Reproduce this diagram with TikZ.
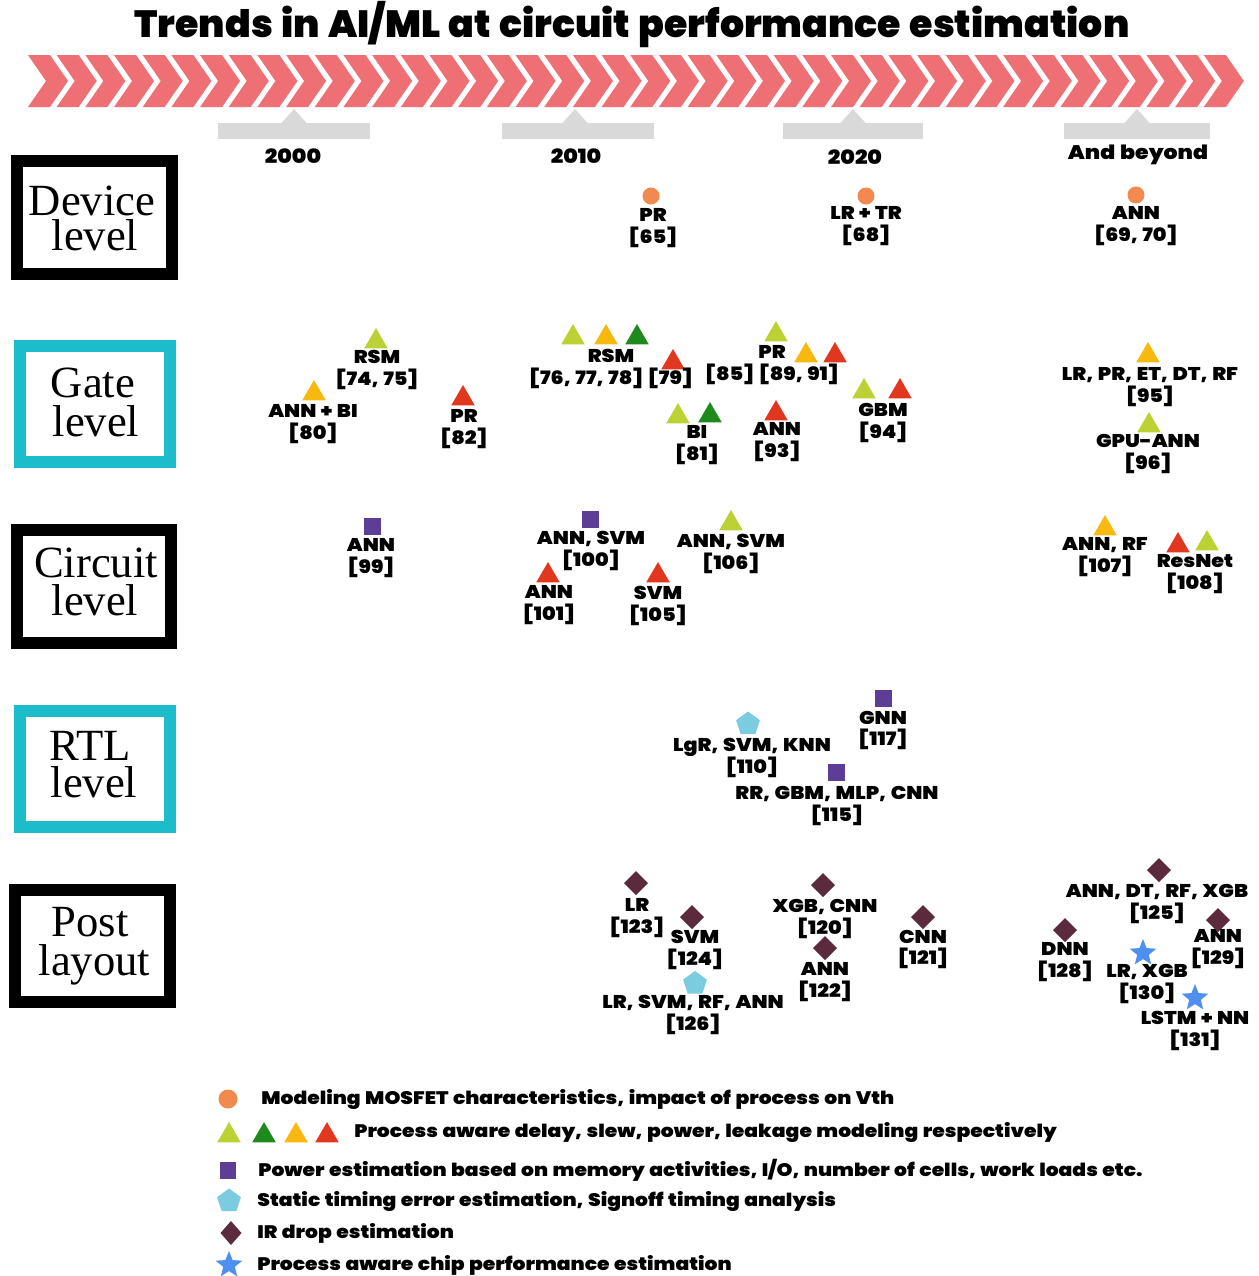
\documentclass[tikz,border=0pt]{standalone}
\usepackage{graphicx}
\usepackage{fontspec}
\setmainfont{Poppins}
\newfontfamily\heavyfont{Poppins Black}[FakeStretch=1.12, WordSpace=1.8]
\newfontfamily\legendfont{Poppins Black}[FakeStretch=1.12, WordSpace=1.3]
\newfontfamily\titlefont{Poppins Black}[WordSpace=1.3]
\newfontfamily\seriffont{Liberation Serif}
\usetikzlibrary{shapes.geometric}

\definecolor{cChev}{HTML}{EE7074}
\definecolor{cGray}{HTML}{D9D9D9}
\definecolor{cCyan}{HTML}{1CBCCB}
\definecolor{cOrange}{HTML}{F28A4F}
\definecolor{cLime}{HTML}{BCD234}
\definecolor{cGreen}{HTML}{1E8A1E}
\definecolor{cAmber}{HTML}{F7B90F}
\definecolor{cRed}{HTML}{E2371F}
\definecolor{cPurple}{HTML}{5C3E96}
\definecolor{cSky}{HTML}{7BCCE0}
\definecolor{cMaroon}{HTML}{5B2A3D}
\definecolor{cStar}{HTML}{4E8FEF}

\newcommand\labfont{\heavyfont\fontsize{10.5}{12.5}\selectfont}
\newcommand\yrfont{\heavyfont\fontsize{11.2}{13}\selectfont}
\newcommand\legfont{\legendfont\fontsize{10.3}{12.5}\selectfont}
\newcommand\lvlfont{\seriffont\fontsize{25.4}{21.5}\selectfont}

\tikzset{
  mk/.style={inner sep=0pt, outer sep=0pt, draw=none},
  dot/.style={mk, circle, fill=cOrange, minimum size=0.34cm},
  tri/.style={mk, regular polygon, regular polygon sides=3, minimum size=0.54cm, fill=#1},
  sq/.style={mk, rectangle, fill=cPurple, minimum size=0.34cm},
  penta/.style={mk, regular polygon, regular polygon sides=5, minimum size=0.5cm, fill=cSky},
  dia/.style={mk, diamond, fill=cMaroon, minimum size=0.48cm},
  starm/.style={mk, star, star points=5, star point ratio=2.3, minimum size=0.56cm, fill=cStar},
  lab/.style={align=center, inner sep=0pt, font=\labfont},
  frame/.style={draw=#1, line width=0.24cm, inner sep=0pt},
  lvltxt/.style={anchor=base, inner sep=0pt, font=\lvlfont},
  yr/.style={inner sep=0pt, font=\yrfont},
  legtxt/.style={anchor=west, inner sep=0pt, font=\legfont},
}

\begin{document}
\begin{tikzpicture}[x=0.02cm, y=-0.02cm]
\useasboundingbox (0,0) rectangle (1259,1276);
\fill[white] (0,0) rectangle (1259,1276);

% title
\node[inner sep=0pt] (title) at (632,25)
  {\resizebox{19.9cm}{!}{\titlefont Trends in AI/ML at circuit performance estimation}};

% chevron band
\foreach \i in {0,...,41}
  \fill[cChev] ({28+\i*28.68},55) -- ++(22,0) -- ++(18,26) -- ++(-18,26)
               -- ++(-22,0) -- ++(18,-26) -- cycle;

% timeline tabs
\foreach \cx/\xa/\xb in {294/218/370, 575/502/654, 853/783/923, 1137/1064/1210}{
  \fill[cGray] (\xa,123) rectangle (\xb,139);
  \fill[cGray] (\cx-13,123.5) -- (\cx,109) -- (\cx+13,123.5) -- cycle;
}
\node[yr] (y2000) at (293,156) {2000};
\node[yr] (y2010) at (576,156) {2010};
\node[yr] (y2020) at (855,157) {2020};
\node[yr] (ybeyond) at (1138,155) {And beyond};

% level boxes
\node[frame=black, minimum width=3.1cm, minimum height=2.26cm] (device) at (94.5,217.5) {};
\node[lvltxt] (deviceA) at (92,215) {Device};
\node[lvltxt] (deviceB) at (95,250) {level};

\node[frame=cCyan, minimum width=3.0cm, minimum height=2.32cm] (gate) at (95,404) {};
\node[lvltxt] (gateA) at (93,397) {Gate};
\node[lvltxt] (gateB) at (96,436) {level};

\node[frame=black, minimum width=3.08cm, minimum height=2.26cm] (circuit) at (94,586.5) {};
\node[lvltxt] (circuitA) at (96,577) {Circuit};
\node[lvltxt] (circuitB) at (95,615) {level};

\node[frame=cCyan, minimum width=3.0cm, minimum height=2.32cm] (rtl) at (95,769) {};
\node[lvltxt] (rtlA) at (90,760) {RTL};
\node[lvltxt] (rtlB) at (94,797) {level};

\node[frame=black, minimum width=3.1cm, minimum height=2.24cm] (post) at (92.5,946) {};
\node[lvltxt] (postA) at (90,936) {Post};
\node[lvltxt] (postB) at (94.5,975) {layout};

% device level
\node[dot] (dv1m) at (651,196) {};
\node[lab] (dv1) at (653,228) {PR\\{[65]}};
\node[dot] (dv2m) at (866,196) {};
\node[lab] (dv2) at (866,226) {LR + TR\\{[68]}};
\node[dot] (dv3m) at (1136,195) {};
\node[lab] (dv3) at (1136,226) {ANN\\{[69, 70]}};

% gate level
\node[tri=cLime] (g1a) at (376,341.5) {};
\node[lab] (g1) at (377,370) {RSM\\{[74, 75]}};
\node[tri=cAmber] (g2a) at (314,393.5) {};
\node[lab] (g2) at (313,424.5) {ANN + BI\\{[80]}};
\node[tri=cRed] (g3a) at (463,398.5) {};
\node[lab] (g3) at (464,429.5) {PR\\{[82]}};
\node[tri=cLime] (g4a) at (573,337.5) {};
\node[tri=cAmber] (g4b) at (606,337.5) {};
\node[tri=cGreen] (g4c) at (637,337.5) {};
\node[tri=cRed] (g4d) at (673,362.5) {};
\node[lab] (g4) at (611,368.5) {RSM\\{[76, 77, 78] [79]}};
\node[tri=cLime] (g5a) at (776,334.5) {};
\node[tri=cAmber] (g5b) at (806,355.5) {};
\node[tri=cRed] (g5c) at (835,355.5) {};
\node[lab] (g5) at (772,365) {PR\\{[85] [89, 91]}};
\node[tri=cLime] (g6a) at (678,416.5) {};
\node[tri=cGreen] (g6b) at (710,415.5) {};
\node[lab] (g6) at (697,445) {BI\\{[81]}};
\node[tri=cRed] (g7a) at (776,413.5) {};
\node[lab] (g7) at (777,442) {ANN\\{[93]}};
\node[tri=cLime] (g8a) at (864,391.5) {};
\node[tri=cRed] (g8b) at (900,391.5) {};
\node[lab] (g8) at (883,423) {GBM\\{[94]}};
\node[tri=cAmber] (g9a) at (1148,355.5) {};
\node[lab] (g9) at (1150,387.5) {LR, PR, ET, DT, RF\\{[95]}};
\node[tri=cLime] (g10a) at (1149,425.5) {};
\node[lab] (g10) at (1148,454) {GPU-ANN\\{[96]}};

% circuit level
\node[sq] (c1a) at (372,526) {};
\node[lab] (c1) at (371,558.5) {ANN\\{[99]}};
\node[sq] (c2a) at (590,519) {};
\node[lab] (c2) at (591,551) {ANN, SVM\\{[100]}};
\node[tri=cRed] (c3a) at (548,575.5) {};
\node[lab] (c3) at (549,605.5) {ANN\\{[101]}};
\node[tri=cRed] (c4a) at (658,575.5) {};
\node[lab] (c4) at (658,605.5) {SVM\\{[105]}};
\node[tri=cLime] (c5a) at (731,523.5) {};
\node[lab] (c5) at (731,553.5) {ANN, SVM\\{[106]}};
\node[tri=cAmber] (c6a) at (1105,528.5) {};
\node[lab] (c6) at (1105,557.5) {ANN, RF\\{[107]}};
\node[tri=cRed] (c7a) at (1178,545.5) {};
\node[tri=cLime] (c7b) at (1207,543.5) {};
\node[lab] (c7) at (1195,574) {ResNet\\{[108]}};

% RTL level
\node[penta] (r1a) at (748,724) {};
\node[lab] (r1) at (752,757.5) {LgR, SVM, KNN\\{[110]}};
\node[sq] (r2a) at (883,698) {};
\node[lab] (r2) at (883,730.5) {GNN\\{[117]}};
\node[sq] (r3a) at (836,772) {};
\node[lab] (r3) at (837,806) {RR, GBM, MLP, CNN\\{[115]}};

% post layout
\node[dia] (p1a) at (636,883) {};
\node[lab] (p1) at (637,918.5) {LR\\{[123]}};
\node[dia] (p2a) at (692,917) {};
\node[lab] (p2) at (695,949.5) {SVM\\{[124]}};
\node[penta] (p3a) at (695,983.5) {};
\node[lab] (p3) at (693,1015) {LR, SVM, RF, ANN\\{[126]}};
\node[dia] (p4a) at (823,885) {};
\node[lab] (p4) at (825,919) {XGB, CNN\\{[120]}};
\node[dia] (p5a) at (825,948) {};
\node[lab] (p5) at (825,982) {ANN\\{[122]}};
\node[dia] (p6a) at (923,917) {};
\node[lab] (p6) at (923,949.5) {CNN\\{[121]}};
\node[dia] (p7a) at (1159,870) {};
\node[lab] (p7) at (1157,904) {ANN, DT, RF, XGB\\{[125]}};
\node[dia] (p8a) at (1065,930) {};
\node[lab] (p8) at (1065,962) {DNN\\{[128]}};
\node[dia] (p9a) at (1218,920) {};
\node[lab] (p9) at (1218,949.5) {ANN\\{[129]}};
\node[starm] (p10a) at (1143,953) {};
\node[lab] (p10) at (1147,984) {LR, XGB\\{[130]}};
\node[starm] (p11a) at (1195,998) {};
\node[lab] (p11) at (1195,1031) {LSTM + NN\\{[131]}};

% legend
\node[dot, minimum size=0.38cm] (k1m) at (228,1099) {};
\node[legtxt] (k1) at (261,1099) {Modeling MOSFET characteristics, impact of process on Vth};
\node[tri=cLime] (k2a) at (229,1135.5) {};
\node[tri=cGreen] (k2b) at (264,1135.5) {};
\node[tri=cAmber] (k2c) at (296,1135.5) {};
\node[tri=cRed] (k2d) at (327,1135.5) {};
\node[legtxt] (k2) at (354,1132) {Process aware delay, slew, power, leakage modeling respectively};
\node[sq] (k3m) at (228,1170) {};
\node[legtxt] (k3) at (258,1170) {Power estimation based on memory activities, I/O, number of cells, work loads etc.};
\node[penta] (k4m) at (229,1201) {};
\node[legtxt] (k4) at (257,1201) {Static timing error estimation, Signoff timing analysis};
\node[dia, minimum width=0.42cm, minimum height=0.48cm] (k5m) at (231,1233) {};
\node[legtxt] (k5) at (257,1233) {IR drop estimation};
\node[starm] (k6m) at (229,1265) {};
\node[legtxt] (k6) at (257,1265) {Process aware chip performance estimation};
\end{tikzpicture}
\end{document}
